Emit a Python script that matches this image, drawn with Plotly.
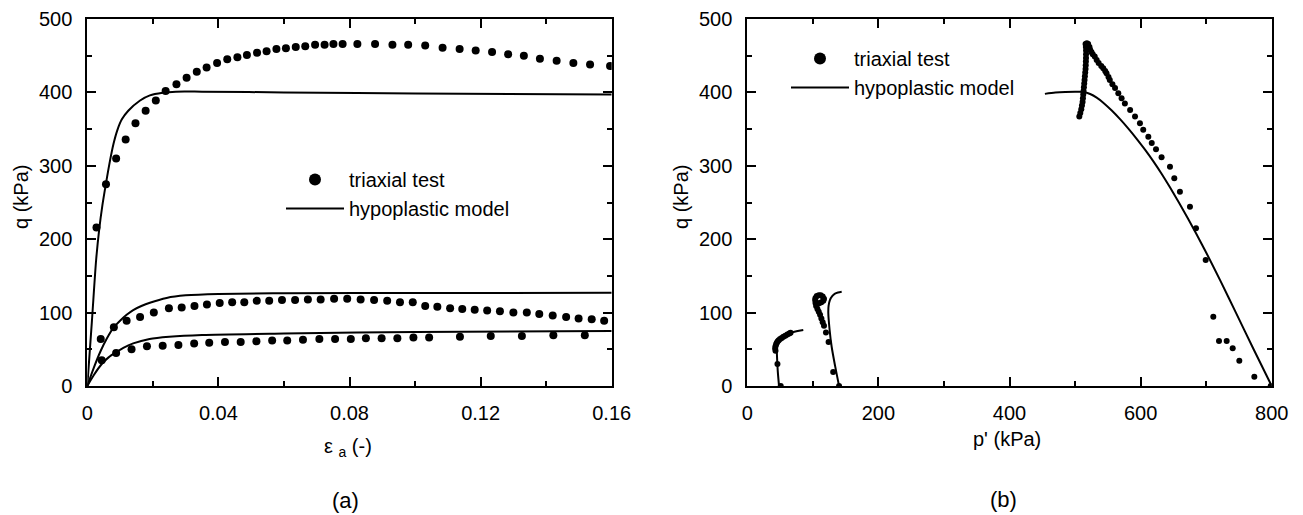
import plotly.graph_objects as go

# ---------------- Panel (a): q vs axial strain ----------------
eps_test_hi = [0.0028, 0.0057, 0.0088, 0.0117, 0.0147, 0.0178, 0.0209, 0.0239, 0.0272, 0.0303,
               0.0334, 0.0364, 0.0396, 0.0427, 0.0458, 0.0487, 0.0518, 0.0547, 0.0577, 0.0606,
               0.0636, 0.0665, 0.0695, 0.0724, 0.0751, 0.0779, 0.0824, 0.0878, 0.0931, 0.0979,
               0.1031, 0.1084, 0.1136, 0.1185, 0.1235, 0.1284, 0.1332, 0.1381, 0.1432, 0.1483,
               0.1534, 0.1595]
q_test_hi = [216, 275, 310, 336, 358, 375, 389, 402, 411, 420,
             428, 434, 440, 445, 448, 451, 454, 456, 459, 460,
             462, 463, 465, 465, 466, 466, 466, 466, 465, 465,
             464, 461, 459, 457, 455, 452, 450, 446, 443, 440,
             438, 436]

eps_test_mid = [0.0041, 0.0081, 0.0120, 0.0161, 0.0203, 0.0249, 0.0288, 0.0327, 0.0365, 0.0404,
                0.0442, 0.0479, 0.0517, 0.0555, 0.0594, 0.0634, 0.0673, 0.0712, 0.0753, 0.0793,
                0.0834, 0.0875, 0.0915, 0.0954, 0.0993, 0.1031, 0.1068, 0.1107, 0.1144, 0.1182,
                0.1220, 0.1259, 0.1300, 0.1341, 0.1379, 0.1420, 0.1461, 0.1499, 0.1539, 0.1577]
q_test_mid = [64, 80, 89, 94, 100, 106, 107, 109, 111, 113,
              114, 114, 116, 116, 117, 117, 118, 118, 119, 119,
              118, 117, 116, 114, 114, 109, 108, 106, 105, 104,
              103, 102, 100, 100, 98, 96, 94, 92, 91, 89]

eps_test_lo = [0.0044, 0.0088, 0.0135, 0.0182, 0.0230, 0.0278, 0.0326, 0.0372, 0.0420, 0.0468,
               0.0516, 0.0564, 0.0610, 0.0658, 0.0708, 0.0756, 0.0804, 0.0850, 0.0898, 0.0946,
               0.0995, 0.1043, 0.1137, 0.1231, 0.1326, 0.1422, 0.1518]
q_test_lo = [35, 45, 50, 54, 55, 56, 58, 59, 60, 60,
             61, 62, 62, 63, 64, 64, 64, 65, 65, 65,
             66, 66, 67, 68, 68, 69, 69]

eps_model_hi = [0, 0.0014, 0.0027, 0.0036, 0.0046, 0.0057, 0.0068, 0.0080, 0.0092, 0.0105,
                0.0125, 0.0161, 0.0191, 0.0230, 0.0270, 0.0350, 0.0600, 0.1000, 0.1600]
q_model_hi = [0, 88, 172, 212, 246, 276, 304, 330, 349, 363,
              375, 389, 396, 399.5, 401, 401, 400, 398.5, 397]

eps_model_mid = [0, 0.002, 0.004, 0.006, 0.008, 0.010, 0.012, 0.014, 0.0165, 0.0191,
                 0.0242, 0.030, 0.040, 0.060, 0.100, 0.160]
q_model_mid = [0, 25, 47, 65, 79.5, 89, 97, 103.5, 109, 113.5,
               120, 123.5, 125.5, 126.3, 126.7, 127]

eps_model_lo = [0, 0.002, 0.0044, 0.0065, 0.0088, 0.011, 0.014, 0.019, 0.025, 0.035,
                0.060, 0.100, 0.160]
q_model_lo = [0, 15, 30, 39, 46, 52, 58, 64, 67, 69.5,
              71.5, 73.5, 75]

# ---------------- Panel (b): q vs p' ----------------
p_test_hi = [506.5, 508, 509.5, 510.5, 511.5, 512, 512.5, 513, 513.5, 514,
             514.5, 515, 515.5, 516, 516.3, 516.5, 516.7, 516.8, 516.8, 516.5,
             516, 518, 520, 522, 523, 525, 527, 530, 533, 536,
             540, 543, 546, 548, 551, 553, 557, 561, 566, 571,
             576, 584, 591.5, 599, 604, 611.8, 617, 623.5, 632, 644.8,
             651.4, 660, 675.3, 684.5, 699.3, 710.9, 719.6, 731.3, 740.5, 750.6,
             773.5, 798.5]
q_test_hi_b = [367, 372, 377, 382, 387, 392, 397, 402, 407, 412,
               417, 422, 427, 432, 437, 442, 447, 452, 457, 462,
               466, 467, 466, 462, 458, 455, 452, 449, 444, 440,
               436, 433, 429, 426, 421, 417, 411, 406, 399, 392,
               385, 376, 367, 358, 349, 339.6, 331, 322.5, 311.6, 298.8,
               283, 264.7, 244.3, 214.8, 171.7, 94.4, 61.3, 61.3, 51.4, 34.5,
               12.7, 0]

p_test_mid = [140, 131, 124, 120, 117, 115, 113, 111, 109, 107,
              105, 104, 103.5, 104, 106, 109, 112, 115, 117, 116,
              113, 110, 108]
q_test_mid_b = [0, 19, 60, 73, 82, 87, 92, 97, 101, 105,
                109, 113, 117, 120, 122.5, 123.5, 123.5, 122, 119, 116,
                114, 113, 112]

p_test_lo = [51, 46, 43, 42.5, 43, 44, 45, 46.5, 48, 50,
             52.5, 55, 58, 61, 64, 66]
q_test_lo_b = [0, 30, 48, 51, 54, 57, 59, 61, 62.5, 64,
               65.5, 67, 68.5, 70, 71.5, 72.5]

p_model_hi = [454, 470, 485, 500, 507, 515, 523, 533, 543, 556,
              569, 581, 594, 607, 619, 632, 645, 672, 698, 722,
              745, 772, 800]
q_model_hi_b = [398, 399.8, 400.7, 401, 401, 400.2, 397.8, 392.8, 386, 375.3,
                363.2, 351, 336.8, 321.7, 306.7, 289.2, 270.3, 228.5, 185.3, 142.8,
                100.7, 50.7, 0]

p_model_mid = [140, 134, 128.7, 125.5, 123.6, 124, 126, 129.5, 133.8, 138.5, 144]
q_model_mid_b = [0, 27, 53.5, 77, 99, 109, 117, 122.5, 126, 127.5, 128.5]

p_model_lo = [48.4, 46.5, 45.8, 45.2, 44.8, 46, 49.9, 55, 65.1, 75, 85.4]
q_model_lo_b = [0, 20, 31, 43, 53.5, 59, 62.7, 66, 71.8, 74.5, 76.3]

x_ticks_a = [0, 0.04, 0.08, 0.12, 0.16]
x_ticks_b = [0, 200, 400, 600, 800]
y_ticks = [0, 100, 200, 300, 400, 500]

FONT = "Liberation Sans, Arial, sans-serif"
W, H = 1303, 515

fig = go.Figure()

def dots(x, y, xa, ya, size):
    fig.add_trace(go.Scatter(x=x, y=y, xaxis=xa, yaxis=ya, mode="markers",
                             marker=dict(color="black", size=size, line=dict(width=0)),
                             showlegend=False, hoverinfo="skip"))

def curve(x, y, xa, ya, width):
    fig.add_trace(go.Scatter(x=x, y=y, xaxis=xa, yaxis=ya, mode="lines",
                             line=dict(color="black", width=width, shape="spline", smoothing=0.8),
                             showlegend=False, hoverinfo="skip"))

for ex, qy in [(eps_model_hi, q_model_hi), (eps_model_mid, q_model_mid), (eps_model_lo, q_model_lo)]:
    curve(ex, qy, "x", "y", 2)
for ex, qy in [(eps_test_hi, q_test_hi), (eps_test_mid, q_test_mid), (eps_test_lo, q_test_lo)]:
    dots(ex, qy, "x", "y", 8)

for px, qy in [(p_model_hi, q_model_hi_b), (p_model_mid, q_model_mid_b), (p_model_lo, q_model_lo_b)]:
    curve(px, qy, "x2", "y2", 2)
for px, qy in [(p_test_hi, q_test_hi_b), (p_test_mid, q_test_mid_b), (p_test_lo, q_test_lo_b)]:
    dots(px, qy, "x2", "y2", 6)

# legend entries
for xa, ya, lg in [("x", "y", "legend"), ("x2", "y2", "legend2")]:
    fig.add_trace(go.Scatter(x=[None], y=[None], xaxis=xa, yaxis=ya, mode="markers",
                             marker=dict(color="black", size=12), name="triaxial test",
                             legend=lg, showlegend=True))
    fig.add_trace(go.Scatter(x=[None], y=[None], xaxis=xa, yaxis=ya, mode="lines",
                             line=dict(color="black", width=2), name="hypoplastic model",
                             legend=lg, showlegend=True))

def axis(domain, rng, ticks, dtick_minor, anchor):
    return dict(domain=domain, range=rng, tickvals=ticks, anchor=anchor,
                showline=True, linecolor="black", linewidth=2, mirror="ticks",
                ticks="inside", ticklen=9, tickwidth=2, tickcolor="black",
                showgrid=False, zeroline=False, fixedrange=True, automargin=False,
                tickfont=dict(family=FONT, size=20, color="black"),
                minor=dict(ticks="inside", ticklen=5, tickwidth=2, tickcolor="black",
                           dtick=dtick_minor, showgrid=False))

xa_dom = [87.3 / W, 611.7 / W]
xb_dom = [747.3 / W, 1271.7 / W]
y_dom = [1 - 386 / H, 1 - 19 / H]

xaxis = axis(xa_dom, [0, 0.16], x_ticks_a, 0.02, "y")
xaxis2 = axis(xb_dom, [0, 800], x_ticks_b, 100, "y2")
yaxis = axis(y_dom, [0, 500], y_ticks, 50, "x")
yaxis2 = axis(y_dom, [0, 500], y_ticks, 50, "x2")
for ax in (xaxis, xaxis2):
    ax["ticklabelstandoff"] = 8
for ax in (yaxis, yaxis2):
    ax["ticklabelstandoff"] = 9

def ann(text, x, y, size=20, angle=0):
    return dict(text=text, x=x / W, y=1 - y / H, xref="paper", yref="paper",
                showarrow=False, textangle=angle, xanchor="center", yanchor="middle",
                font=dict(family=FONT, size=size, color="black"))

annotations = [
    ann("q (kPa)", 21, 197, angle=-90),
    ann("q (kPa)", 681, 197, angle=-90),
    ann("\u03b5 <sub>a</sub> (-)", 348, 447),
    ann("p' (kPa)", 1007, 439),
    ann("(a)", 345, 500, size=22),
    ann("(b)", 1003, 499, size=22),
]

leg_common = dict(xanchor="left", yanchor="top", bgcolor="rgba(0,0,0,0)", borderwidth=0,
                  font=dict(family=FONT, size=20, color="black"), itemwidth=58,
                  tracegroupgap=0)

fig.update_layout(
    width=W, height=H, margin=dict(l=0, r=0, t=0, b=0, autoexpand=False),
    paper_bgcolor="white", plot_bgcolor="white",
    xaxis=xaxis, yaxis=yaxis, xaxis2=xaxis2, yaxis2=yaxis2,
    annotations=annotations,
    legend=dict(x=281 / W, y=1 - 160 / H, **leg_common),
    legend2=dict(x=786 / W, y=1 - 39 / H, **leg_common),
    font=dict(family=FONT, color="black"),
)

fig.write_html("out.html", config={"displayModeBar": False},
               post_script="document.body.style.margin='0';")
